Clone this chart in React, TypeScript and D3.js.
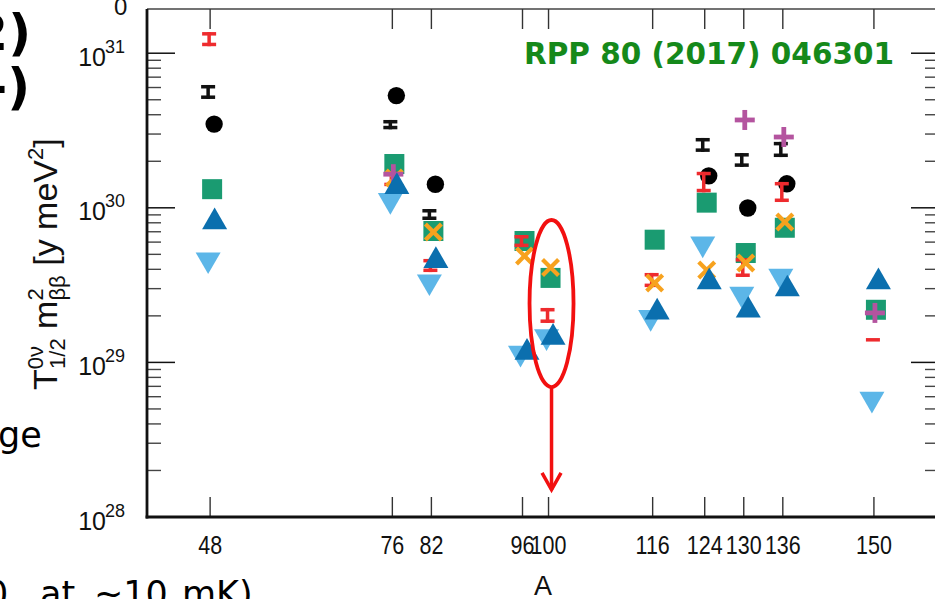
import React from 'react';
import * as d3 from 'd3';

// ---------- data ----------
const xTicks = [48, 76, 82, 96, 100, 116, 124, 130, 136, 150];
const yDecades = [28, 29, 30, 31];

// [A, value]
const circles: [number, number][] = [
  [48, 3.48e30], [76, 5.32e30], [82, 1.42e30], [124, 1.61e30], [130, 9.97e29], [136, 1.43e30],
];
// [A, low, high]
const blackBars: [number, number, number][] = [
  [48, 5.06e30, 6.23e30], [76, 3.22e30, 3.7e30], [82, 8.34e29, 9.82e29],
  [124, 2.3e30, 2.83e30], [130, 1.84e30, 2.26e30], [136, 2.13e30, 2.67e30],
];
const redBars: [number, number, number][] = [
  [48, 1.11e31, 1.37e31], [76, 1.38e30, 1.71e30], [82, 3.84e29, 4.67e29], [96, 5.57e29, 6.67e29],
  [100, 1.8e29, 2.25e29], [116, 3.07e29, 3.79e29], [124, 1.26e30, 1.71e30], [130, 3.57e29, 4.73e29],
  [136, 1.09e30, 1.47e30], [150, 1.4e29, 1.4e29],
];
const squares: [number, number][] = [
  [48, 1.32e30], [76, 1.92e30], [82, 7.08e29], [96, 6.1e29], [100, 3.52e29],
  [116, 6.22e29], [124, 1.08e30], [130, 5.1e29], [136, 7.43e29], [150, 2.19e29],
];
const upTriangles: [number, number][] = [
  [48, 8.1e29], [76, 1.37e30], [82, 4.55e29], [96, 1.16e29], [100, 1.45e29],
  [116, 2.11e29], [124, 3.31e29], [130, 2.17e29], [136, 2.98e29], [150, 3.31e29],
];
const downTriangles: [number, number][] = [
  [48, 4.62e29], [76, 1.12e30], [82, 3.33e29], [96, 1.15e29], [100, 1.47e29],
  [116, 1.96e29], [124, 5.86e29], [130, 2.77e29], [136, 3.62e29], [150, 5.8e28],
];
const crosses: [number, number][] = [
  [76, 1.56e30], [82, 6.97e29], [96, 4.88e29], [100, 4.11e29],
  [116, 3.26e29], [124, 3.96e29], [130, 4.4e29], [136, 8.09e29],
];
const pluses: [number, number][] = [
  [76, 1.65e30], [130, 3.7e30], [136, 2.87e30], [150, 2.09e29],
];

// annotation (ellipse around A=100 and arrow downwards)
const markA = 100;
const ellipseTop = 8.34e29;
const ellipseBottom = 6.93e28;
const arrowTip = 1.5e28;

// ---------- styles ----------
const C = {
  red: '#ee2b2e',
  green: '#1a9b71',
  dblue: '#0b6fae',
  lblue: '#5cb6e8',
  orange: '#f7a21e',
  purple: '#b4549f',
  annot: '#f21010',
  ref: '#15891a',
};
const chartFont = '"Liberation Sans", Arial, sans-serif';
const slideFont = '"DejaVu Sans", Verdana, sans-serif';

export default function App() {
  const left = 147, right = 939, top = 9, bottom = 517;
  const x = d3.scaleLinear().domain([38.3, 160]).range([left, right]);
  const y = d3.scaleLog().domain([1e28, Math.pow(10, 31.286)]).range([bottom, top]);
  const ymax = y.domain()[1];

  const minors: number[] = [];
  yDecades.forEach((d) => {
    for (let m = 2; m <= 9; m++) {
      const v = m * Math.pow(10, d);
      if (v < ymax) minors.push(v);
    }
  });

  const s = 25;
  const h = (s * Math.sqrt(3)) / 2;
  const upPath = `M0,${-2 * h / 3}L${s / 2},${h / 3}L${-s / 2},${h / 3}Z`;
  const downPath = `M0,${2 * h / 3}L${s / 2},${-h / 3}L${-s / 2},${-h / 3}Z`;

  const bar = (d: [number, number, number], i: number, color: string, dx: number) => {
    const cx = x(d[0]) + dx;
    const yHi = y(d[2]);
    const yLo = y(d[1]);
    const t = 3.5;
    const w = 14;
    if (yLo - yHi < 2 * t) {
      const cy = (yLo + yHi) / 2;
      return <rect key={i} x={cx - w / 2} y={cy - t / 2} width={w} height={t} fill={color} />;
    }
    return (
      <g key={i} fill={color}>
        <rect x={cx - w / 2} y={yHi} width={w} height={t} />
        <rect x={cx - w / 2} y={yLo - t} width={w} height={t} />
        <rect x={cx - 1.75} y={yHi} width={3.5} height={yLo - yHi} />
      </g>
    );
  };

  const ex = x(markA) + 3;
  const eTop = y(ellipseTop);
  const eBot = y(ellipseBottom);
  const tipY = y(arrowTip);

  return (
    <svg width={935} height={599} style={{ position: 'absolute', left: 0, top: 0, display: 'block', background: '#fff' }}>
      {/* slide text fragments */}
      <text x={31} y={50} textAnchor="end" fontFamily={slideFont} fontWeight="bold" fontSize={50} fill="#000">2)</text>
      <text x={30} y={104} textAnchor="end" fontFamily={slideFont} fontWeight="bold" fontSize={50} fill="#000">-)</text>
      <text x={-2} y={447} fontFamily={slideFont} fontSize={35} fill="#000">ge</text>
      <text y={606} fontFamily={slideFont} fontSize={35} fill="#000">
        <tspan x={-14}>0,</tspan>
        <tspan x={40}>at</tspan>
        <tspan x={94}>~10</tspan>
        <tspan x={182}>mK)</tspan>
      </text>
      <text x={114} y={15} fontFamily={chartFont} fontSize={24} fill="#111">0</text>

      {/* frame */}
      <line x1={left} x2={right} y1={top} y2={top} stroke="#444" strokeWidth={1.5} />
      {/* y ticks left & right */}
      {yDecades.map((d) => (
        <g key={'M' + d}>
          <line x1={left} x2={left + 28} y1={y(Math.pow(10, d))} y2={y(Math.pow(10, d))} stroke="#111" strokeWidth={1.5} />
          <line x1={right - 28} x2={right} y1={y(Math.pow(10, d))} y2={y(Math.pow(10, d))} stroke="#111" strokeWidth={1.5} />
        </g>
      ))}
      {minors.map((v, i) => (
        <g key={'m' + i}>
          <line x1={left} x2={left + 14} y1={y(v)} y2={y(v)} stroke="#444" strokeWidth={1.4} />
          <line x1={right - 14} x2={right} y1={y(v)} y2={y(v)} stroke="#444" strokeWidth={1.4} />
        </g>
      ))}
      {/* x ticks bottom & top */}
      {xTicks.map((t) => (
        <g key={'x' + t}>
          <line x1={x(t)} x2={x(t)} y1={bottom} y2={bottom - 20} stroke="#333" strokeWidth={1.4} />
          <line x1={x(t)} x2={x(t)} y1={top} y2={top + 20} stroke="#333" strokeWidth={1.4} />
        </g>
      ))}
      <line x1={left} x2={left} y1={top} y2={bottom + 1.5} stroke="#111" strokeWidth={2.8} />
      <line x1={left - 1.4} x2={right} y1={bottom} y2={bottom} stroke="#111" strokeWidth={2.8} />

      {/* y tick labels */}
      {yDecades.map((d) => (
        <g key={'yl' + d} fontFamily={chartFont} fill="#111">
          <text x={106} y={y(Math.pow(10, d)) + 12.5} textAnchor="end" fontSize={25}>10</text>
          <text x={105} y={y(Math.pow(10, d)) - 0.5} fontSize={18}>{d}</text>
        </g>
      ))}
      {/* x tick labels (slightly condensed, as in the reference) */}
      {xTicks.map((t) => (
        <text key={'xl' + t} transform={`translate(${x(t)},554) scale(0.86,1)`} textAnchor="middle" fontFamily={chartFont} fontSize={25} fill="#111">{t}</text>
      ))}
      <text x={543} y={595} textAnchor="middle" fontFamily={chartFont} fontSize={27} fill="#111">A</text>

      {/* y axis title */}
      <text transform="translate(57,390) rotate(-90)" fontFamily={chartFont} fontSize={34} fill="#111">
        <tspan>T</tspan>
        <tspan fontSize={22} dy={-14}>0ν</tspan>
        <tspan fontSize={22} dx={-23} dy={22}>1/2</tspan>
        <tspan dy={-8}>{'\u00a0m'}</tspan>
        <tspan fontSize={22} dy={-14}>2</tspan>
        <tspan fontSize={22} dx={-12.2} dy={22}>ββ</tspan>
        <tspan dy={-8}>{'\u00a0[y meV'}</tspan>
        <tspan fontSize={22} dy={-14}>2</tspan>
        <tspan dy={14}>]</tspan>
      </text>

      {/* reference */}
      <text x={894} y={64} textAnchor="end" fontFamily={slideFont} fontWeight="bold" fontSize={29.5} fill={C.ref}>RPP 80 (2017) 046301</text>

      {/* markers */}
      <g>
        {circles.map((d, i) => (
          <circle key={i} cx={x(d[0]) + 4} cy={y(d[1])} r={8.7} fill="#000" />
        ))}
      </g>
      <g>{blackBars.map((d, i) => bar(d, i, '#111', -2))}</g>
      <g>
        {squares.map((d, i) => (
          <rect key={i} x={x(d[0]) + 2 - 10} y={y(d[1]) - 10} width={20} height={20} fill={C.green} />
        ))}
      </g>
      <g>
        {downTriangles.map((d, i) => (
          <path key={i} d={downPath} transform={`translate(${x(d[0]) - 2},${y(d[1])})`} fill={C.lblue} />
        ))}
      </g>
      <g>{redBars.map((d, i) => bar(d, i, C.red, -1))}</g>
      <g>
        {crosses.map((d, i) => {
          const cx = x(d[0]) + 2, cy = y(d[1]), r = 8;
          return (
            <g key={i} stroke={C.orange} strokeWidth={4.2}>
              <line x1={cx - r} y1={cy - r} x2={cx + r} y2={cy + r} />
              <line x1={cx - r} y1={cy + r} x2={cx + r} y2={cy - r} />
            </g>
          );
        })}
      </g>
      <g>
        {pluses.map((d, i) => {
          const cx = x(d[0]) + 1, cy = y(d[1]), r = 10;
          return (
            <g key={i} stroke={C.purple} strokeWidth={4.8}>
              <line x1={cx - r} y1={cy} x2={cx + r} y2={cy} />
              <line x1={cx} y1={cy - r} x2={cx} y2={cy + r} />
            </g>
          );
        })}
      </g>
      <g>
        {upTriangles.map((d, i) => (
          <path key={i} d={upPath} transform={`translate(${x(d[0]) + 4.5},${y(d[1])})`} fill={C.dblue} />
        ))}
      </g>

      {/* annotation */}
      <ellipse cx={ex} cy={(eTop + eBot) / 2} rx={22} ry={(eBot - eTop) / 2} fill="none" stroke={C.annot} strokeWidth={3.8} />
      <line x1={ex} x2={ex} y1={eBot} y2={tipY} stroke={C.annot} strokeWidth={3.5} />
      <polyline points={`${ex - 9.5},${tipY - 17} ${ex},${tipY} ${ex + 9.5},${tipY - 17}`} fill="none" stroke={C.annot} strokeWidth={3.5} />
    </svg>
  );
}
